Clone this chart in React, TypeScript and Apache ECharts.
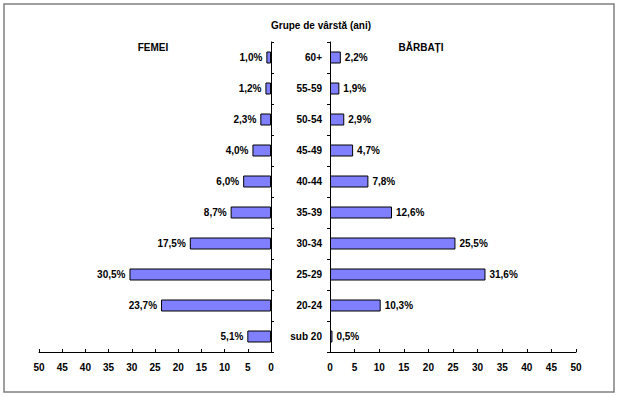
import React, { useEffect, useRef } from "react";
import * as echarts from "echarts";

const ageGroups = ["sub 20", "20-24", "25-29", "30-34", "35-39", "40-44", "45-49", "50-54", "55-59", "60+"];
const femei = [5.1, 23.7, 30.5, 17.5, 8.7, 6.0, 4.0, 2.3, 1.2, 1.0];
const barbati = [0.5, 10.3, 31.6, 25.5, 12.6, 7.8, 4.7, 2.9, 1.9, 2.2];
const axisMin = 0;
const axisMax = 50;
const axisStep = 5;

const FONT = "'Liberation Sans', Arial, sans-serif";

export default function App() {
  const ref = useRef<HTMLDivElement>(null);
  useEffect(() => {
    if (!ref.current) return;
    const chart = echarts.init(ref.current, null, { renderer: "svg" });
    const fmt = (p: any) => p.value.toFixed(1).replace(".", ",") + "%";
    const labelStyle = { fontFamily: FONT, fontSize: 10, fontWeight: "bold" as const, color: "#000" };
    const axisLineStyle = { show: true, lineStyle: { color: "#000", width: 1 } };
    chart.setOption({
      animation: false,
      backgroundColor: "#fff",
      textStyle: { fontFamily: FONT },
      grid: [
        { left: 39, right: 620 - 271, top: 42, bottom: 397 - 352, containLabel: false },
        { left: 330, right: 620 - 576, top: 42, bottom: 397 - 352, containLabel: false },
      ],
      xAxis: [
        {
          gridIndex: 0, type: "value", inverse: true, min: axisMin, max: axisMax, interval: axisStep,
          axisLine: axisLineStyle, axisTick: { show: true, inside: true, length: 3, lineStyle: { color: "#000" } },
          splitLine: { show: false }, axisLabel: { ...labelStyle, margin: 10 },
        },
        {
          gridIndex: 1, type: "value", min: axisMin, max: axisMax, interval: axisStep,
          axisLine: axisLineStyle, axisTick: { show: true, inside: true, length: 3, lineStyle: { color: "#000" } },
          splitLine: { show: false }, axisLabel: { ...labelStyle, margin: 10 },
        },
      ],
      yAxis: [
        {
          gridIndex: 0, type: "category", data: ageGroups, position: "right",
          axisLine: axisLineStyle, axisTick: { show: true, inside: false, length: 3, lineStyle: { color: "#000" } },
          axisLabel: { show: false },
        },
        {
          gridIndex: 1, type: "category", data: ageGroups, position: "left",
          axisLine: axisLineStyle, axisTick: { show: true, inside: false, length: 3, lineStyle: { color: "#000" } },
          axisLabel: { ...labelStyle, margin: 8 },
        },
      ],
      series: [
        {
          name: "FEMEI", type: "bar", xAxisIndex: 0, yAxisIndex: 0, data: femei, barWidth: 12,
          itemStyle: { color: "#8080ff", borderColor: "#000", borderWidth: 1 },
          label: { show: true, position: "left", distance: 4, formatter: fmt, ...labelStyle },
        },
        {
          name: "BĂRBAȚI", type: "bar", xAxisIndex: 1, yAxisIndex: 1, data: barbati, barWidth: 12,
          itemStyle: { color: "#8080ff", borderColor: "#000", borderWidth: 1 },
          label: { show: true, position: "right", distance: 4, formatter: fmt, ...labelStyle },
        },
      ],
      graphic: [
        { type: "rect", shape: { x: 4, y: 4, width: 610, height: 388 }, style: { fill: "none", stroke: "#808080", lineWidth: 1.5 } },
        { type: "text", x: 321, y: 25, style: { text: "Grupe de vârstă (ani)", ...{ font: `bold 10px ${FONT}` }, fill: "#000", align: "center", verticalAlign: "middle" } },
        { type: "text", x: 153, y: 47, style: { text: "FEMEI", font: `bold 10px ${FONT}`, fill: "#000", align: "center", verticalAlign: "middle" } },
        { type: "text", x: 421, y: 47, style: { text: "BĂRBAȚI", font: `bold 10px ${FONT}`, fill: "#000", align: "center", verticalAlign: "middle" } },
      ],
    });
    return () => chart.dispose();
  }, []);
  return <div ref={ref} style={{ position: "fixed", left: 0, top: 0, width: 620, height: 397 }} />;
}
